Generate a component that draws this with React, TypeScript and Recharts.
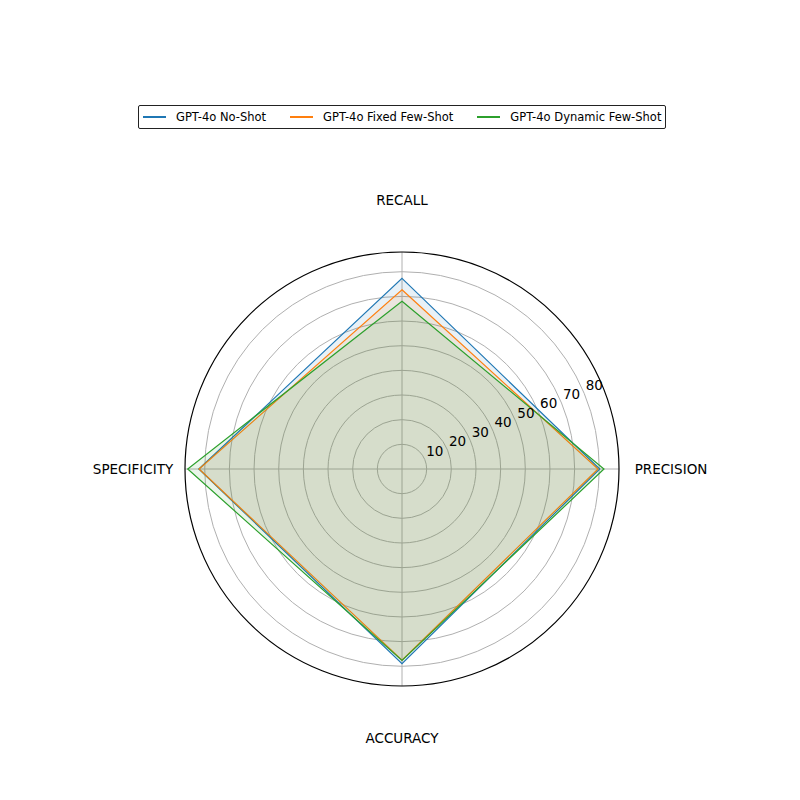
import React from "react";
import {
  RadarChart,
  Radar,
  PolarGrid,
  PolarAngleAxis,
  PolarRadiusAxis,
} from "recharts";

const metrics = ["RECALL", "PRECISION", "ACCURACY", "SPECIFICITY"];
const noShot = [77.3, 80.2, 78.9, 82.4];
const fixedFewShot = [72.7, 79.5, 77.5, 82.3];
const dynamicFewShot = [68.0, 81.9, 77.6, 86.9];
const radiusTicks = [10, 20, 30, 40, 50, 60, 70, 80];

const seriesNames = ["GPT-4o No-Shot", "GPT-4o Fixed Few-Shot", "GPT-4o Dynamic Few-Shot"];
const colors = ["#1f77b4", "#ff7f0e", "#2ca02c"];

const data = metrics.map((m, i) => ({
  metric: m,
  noShot: noShot[i],
  fixed: fixedFewShot[i],
  dynamic: dynamicFewShot[i],
}));

const CX = 402;
const CY = 469;
const FONT = "DejaVu Sans, sans-serif";

// matplotlib centres the theta labels a fixed distance from the centre
const AngleTick = ({ x, y, payload }: any) => {
  const dx = x - CX;
  const dy = y - CY;
  const d = Math.sqrt(dx * dx + dy * dy) || 1;
  const r = 269;
  return (
    <text
      x={CX + (dx / d) * r}
      y={CY + (dy / d) * r}
      textAnchor="middle"
      dominantBaseline="central"
      fontSize={13.5}
      fontFamily={FONT}
      fill="#000"
    >
      {payload.value}
    </text>
  );
};

const RadiusTick = ({ x, y, payload }: any) => (
  <text
    x={x + 10}
    y={y - 9}
    textAnchor="middle"
    dominantBaseline="central"
    fontSize={13.5}
    fontFamily={FONT}
    fill="#000"
  >
    {payload.value}
  </text>
);

export default function App() {
  return (
    <div style={{ position: "absolute", left: 0, top: 0, width: 800, height: 800, background: "#fff" }}>
      <div
        style={{
          position: "absolute",
          left: 138,
          top: 105,
          height: 22,
          display: "flex",
          alignItems: "center",
          border: "1px solid #222",
          borderRadius: 2,
          padding: "0 4px",
          fontFamily: FONT,
          fontSize: 11.5,
          color: "#000",
          whiteSpace: "nowrap",
        }}
      >
        {seriesNames.map((n, i) => (
          <div key={n} style={{ display: "flex", alignItems: "center", marginRight: i < 2 ? 24 : 0 }}>
            <div style={{ width: 23, height: 1.3, background: colors[i], marginRight: 10 }} />
            <span>{n}</span>
          </div>
        ))}
      </div>
      <RadarChart
        width={800}
        height={800}
        data={data}
        cx={CX}
        cy={CY}
        outerRadius={217}
        margin={{ top: 0, right: 0, bottom: 0, left: 0 }}
      >
        <PolarGrid gridType="circle" stroke="#b0b0b0" strokeWidth={1} />
        <PolarAngleAxis
          dataKey="metric"
          axisLineType="circle"
          axisLine={{ stroke: "#000", strokeWidth: 1.2 }}
          tickLine={false}
          tick={<AngleTick />}
        />
        <PolarRadiusAxis
          angle={22.5}
          domain={[0, 87.7]}
          ticks={radiusTicks}
          axisLine={false}
          tickLine={false}
          tick={<RadiusTick />}
        />
        <Radar
          name={seriesNames[0]}
          dataKey="noShot"
          stroke={colors[0]}
          strokeWidth={1.2}
          fill={colors[0]}
          fillOpacity={0.1}
          isAnimationActive={false}
        />
        <Radar
          name={seriesNames[1]}
          dataKey="fixed"
          stroke={colors[1]}
          strokeWidth={1.2}
          fill={colors[1]}
          fillOpacity={0.1}
          isAnimationActive={false}
        />
        <Radar
          name={seriesNames[2]}
          dataKey="dynamic"
          stroke={colors[2]}
          strokeWidth={1.2}
          fill={colors[2]}
          fillOpacity={0.1}
          isAnimationActive={false}
        />
      </RadarChart>
    </div>
  );
}
